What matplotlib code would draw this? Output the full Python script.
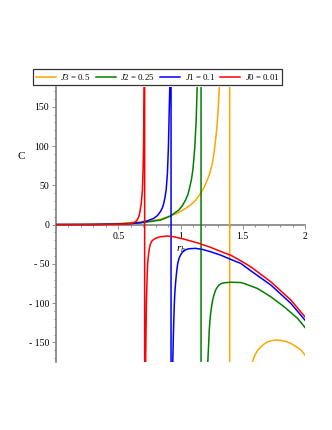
import matplotlib
matplotlib.use("Agg")
import matplotlib.pyplot as plt
from matplotlib.ticker import MultipleLocator, FuncFormatter

# values, (r_h, C) per branch and pole position
labels = ["$J3$ = 0.5", "$J2$ = 0.25", "$J1$ = 0.1", "$J0$ = 0.01"]
colours = ["#FFA500", "#008000", "#0000FF", "#FF0000"]

j3_up_x = [0, 0.2, 0.35, 0.516, 0.677, 0.839, 0.973, 1.02, 1.081, 1.125, 1.161, 1.19, 1.215, 1.237,
           1.256, 1.270, 1.282, 1.292, 1.301, 1.312, 1.33]
j3_up_c = [0, 0.1, 0.6, 1.5, 3.6, 6.6, 14.3, 18.5, 24.8, 31.5, 39.7, 47.5, 56.7, 66,
           78, 92, 108, 124, 142, 176, 260]
j3_pole = 1.395
j3_lo_x = [1.55, 1.578, 1.590, 1.605, 1.62, 1.645, 1.67, 1.699, 1.726, 1.753, 1.78, 1.806, 1.85,
           1.887, 1.93, 1.968, 2.0]
j3_lo_c = [-240, -174.7, -169, -164, -160, -155.7, -152.2, -149.3, -148, -147.1, -147, -147.5, -149,
           -151.3, -155.5, -159.9, -166.2]

j2_up_x = [0, 0.3, 0.5, 0.7, 0.839, 0.919, 0.986, 1.015, 1.040, 1.060, 1.075, 1.088, 1.099, 1.107,
           1.115, 1.126, 1.134, 1.14]
j2_up_c = [0, 0.2, 0.8, 2.5, 5.7, 10.8, 18.5, 24, 31.2, 38.5, 48.2, 57.5, 69.4, 83,
           99, 133, 176, 240]
j2_pole = 1.165
j2_lo_x = [1.19, 1.220, 1.226, 1.231, 1.236, 1.242, 1.250, 1.258, 1.270, 1.282, 1.295, 1.309, 1.325,
           1.349, 1.403, 1.484, 1.511, 1.618, 1.726, 1.833, 1.941, 2.0]
j2_lo_c = [-300, -172.6, -152, -134.4, -123, -113, -104, -96.2, -89, -83.4, -79.8, -77, -75.3,
           -74.1, -73.4, -73.8, -75, -81.3, -92, -104.7, -119.5, -131]

j1_up_x = [0, 0.3, 0.5, 0.6, 0.677, 0.73, 0.785, 0.815, 0.839, 0.855, 0.866, 0.876, 0.885, 0.895,
           0.903, 0.909, 0.914, 0.918]
j1_up_c = [0, 0.1, 0.5, 1.2, 2.3, 4.5, 7.9, 11.5, 16.6, 21.5, 27.4, 35, 44.3, 65.6,
           99.6, 142, 176, 260]
j1_pole = 0.924
j1_lo_x = [0.93, 0.938, 0.942, 0.946, 0.950, 0.954, 0.960, 0.965, 0.971, 0.978, 0.988, 1.0, 1.013,
           1.027, 1.045, 1.067, 1.121, 1.175, 1.242, 1.323, 1.403, 1.484, 1.565, 1.726, 1.887, 2.0]
j1_lo_c = [-300, -172.6, -145, -121.7, -103, -87.6, -75, -66.5, -57, -49.4, -43, -38.9, -35.8,
           -33.4, -31.8, -30.8, -30.3, -31.6, -34.6, -38.9, -44.3, -49.4, -58.9, -77, -100.4, -121.7]

j0_up_x = [0, 0.3, 0.5, 0.58, 0.61, 0.635, 0.651, 0.662, 0.672, 0.685, 0.694, 0.699, 0.703, 0.706,
           0.708, 0.710]
j0_up_c = [0, 0, 0.2, 0.8, 1.5, 3.2, 5.7, 9, 14.3, 27, 44, 69, 99, 142,
           185, 260]
j0_pole = 0.712
j0_lo_x = [0.716, 0.720, 0.726, 0.731, 0.736, 0.744, 0.750, 0.758, 0.770, 0.785, 0.810, 0.839, 0.893,
           0.946, 1.027, 1.134, 1.242, 1.349, 1.403, 1.484, 1.565, 1.726, 1.887, 2.0]
j0_lo_c = [-300, -172.6, -100, -70.7, -49.4, -36.7, -30, -24.8, -21, -18.9, -16.8, -15.5, -14.6,
           -15.5, -18.5, -23.2, -29, -35.9, -38.9, -46.1, -53.8, -72.9, -96.2, -117.5]

series = [
    (j3_up_x, j3_up_c, j3_pole, j3_lo_x, j3_lo_c),
    (j2_up_x, j2_up_c, j2_pole, j2_lo_x, j2_lo_c),
    (j1_up_x, j1_up_c, j1_pole, j1_lo_x, j1_lo_c),
    (j0_up_x, j0_up_c, j0_pole, j0_lo_x, j0_lo_c),
]

plt.rcParams["font.family"] = ["Liberation Serif", "DejaVu Serif"]
plt.rcParams["mathtext.fontset"] = "custom"
plt.rcParams["mathtext.it"] = "Liberation Serif:italic"
plt.rcParams["mathtext.rm"] = "Liberation Serif"

fig = plt.figure(figsize=(3.32, 4.30), dpi=100)
ax = fig.add_axes([0.1687, 0.158, 0.75, 0.6395])

handles = []
for (ux, uc, pole, lx, lc), col, lab in zip(series, colours, labels):
    # Maple joins the two branches with a vertical line through the pole
    xs = ux + [pole, pole] + lx
    cs = uc + [400, -400] + lc
    h, = ax.plot(xs, cs, color=col, lw=1.1, label=lab)
    handles.append(h)

ax.set_xlim(0, 2)
ax.set_ylim(-175, 175)

for s in ["top", "right"]:
    ax.spines[s].set_visible(False)
ax.spines["bottom"].set_position(("data", 0))
for s in ["left", "bottom"]:
    ax.spines[s].set_color("#808080")
    ax.spines[s].set_linewidth(1.2)
    ax.spines[s].set_zorder(0.5)

ax.xaxis.set_major_locator(MultipleLocator(0.5))
ax.xaxis.set_minor_locator(MultipleLocator(0.1))
ax.yaxis.set_major_locator(MultipleLocator(50))
ax.yaxis.set_minor_locator(MultipleLocator(10))
ax.xaxis.set_major_formatter(FuncFormatter(lambda v, p: "" if v == 0 else f"{v:g}"))
ax.yaxis.set_major_formatter(FuncFormatter(lambda v, p: f"- {abs(v):g}" if v < 0 else f"{v:g}"))
ax.tick_params(which="both", colors="#808080", labelcolor="black", labelsize=7, width=0.6)
ax.tick_params(which="major", length=3, direction="out", pad=2)
ax.tick_params(which="minor", length=1.5, direction="out")

ax.text(-0.138, 0.746, "C", transform=ax.transAxes, fontsize=8, ha="center", va="center")
ax.text(0.502, 0.41, "$r_h$", transform=ax.transAxes, fontsize=8, ha="center", va="center")

leg = fig.legend(handles=handles, loc="center", bbox_to_anchor=(0.4744, 0.821), ncol=4,
                 fontsize=6.3, handlelength=2.3, handletextpad=0.5, columnspacing=0.6,
                 borderpad=0.3, fancybox=False, framealpha=1)
leg.get_frame().set_edgecolor("#333333")
leg.get_frame().set_linewidth(0.9)

fig.savefig("out.png", dpi=100)
